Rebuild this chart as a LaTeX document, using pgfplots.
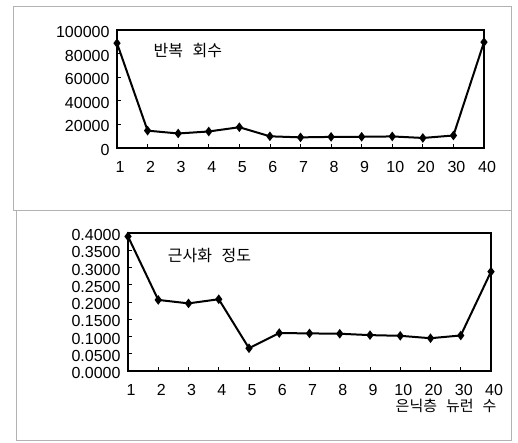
\documentclass[border=0pt]{standalone}
\usepackage{fontspec}
\setmainfont{Liberation Sans}
\newfontfamily\kr{Noto Sans CJK KR}
\usepackage{pgfplots}
\usepackage{pgfplotstable}
\pgfplotsset{compat=1.18}

\pgfplotstableread{
x y
0 88800
1 14700
2 12300
3 14000
4 17600
5 9900
6 9000
7 9400
8 9500
9 9800
10 8500
11 10600
12 89700
}\iterdata

\pgfplotstableread{
x y
0 0.390
1 0.206
2 0.196
3 0.208
4 0.066
5 0.110
6 0.109
7 0.108
8 0.104
9 0.102
10 0.095
11 0.103
12 0.288
}\approxdata

\pgfplotsset{
  panel/.style={
    anchor=south west,
    scale only axis,
    xmin=0, xmax=12,
    xtick={0,...,12},
    xticklabels={1,2,3,4,5,6,7,8,9,10,20,30,40},
    tick pos=left,
    tick align=inside,
    major tick length=4pt,
    axis line style={line width=1.1pt},
    tick style={black, line width=0.7pt},
    ticklabel style={font=\fontsize{16}{18}\selectfont},
    /pgf/number format/assume math mode=true,
    xticklabel shift=10pt,
    xticklabel style={xshift=3pt},
    yticklabel style={yshift=-2pt, xshift=-4pt},
    scaled y ticks=false,
    clip=false,
  },
  series/.style={black, line width=2pt, mark=diamond*, mark size=3.2pt, mark options={solid, fill=black}},
}

\begin{document}
\begin{tikzpicture}
\useasboundingbox (0pt,0pt) rectangle (518pt,443pt);
\draw[gray!60, line width=0.6pt] (13pt,233pt) rectangle (511pt,437pt);
\draw[gray!60, line width=0.6pt] (16pt,3pt) rectangle (511pt,233pt);

\begin{axis}[panel,
  at={(117pt,295pt)}, width=367pt, height=118pt,
  ymin=0, ymax=100000,
  ytick={0,20000,40000,60000,80000,100000},
  yticklabels={0,20000,40000,60000,80000,100000},
]
\addplot[series] table[x=x, y=y] {\iterdata};
\node[anchor=west, font=\kr\fontsize{16}{18}\selectfont] at (rel axis cs:0.09,0.83) {반복\hspace{0.6em}회수};
\end{axis}

\begin{axis}[panel,
  at={(128pt,72pt)}, width=363pt, height=138pt,
  ymin=0, ymax=0.4,
  ytick={0,0.05,0.1,0.15,0.2,0.25,0.3,0.35,0.4},
  yticklabels={0.0000,0.0500,0.1000,0.1500,0.2000,0.2500,0.3000,0.3500,0.4000},
  xlabel={은닉층\hspace{0.6em}뉴런\hspace{0.6em}수},
  xlabel style={at={(rel axis cs:1.025,-0.254)}, anchor=east, font=\kr\fontsize{15}{16}\selectfont},
]
\addplot[series] table[x=x, y=y] {\approxdata};
\node[anchor=west, font=\kr\fontsize{16}{18}\selectfont] at (rel axis cs:0.10,0.84) {근사화\hspace{0.6em}정도};
\end{axis}
\end{tikzpicture}
\end{document}
